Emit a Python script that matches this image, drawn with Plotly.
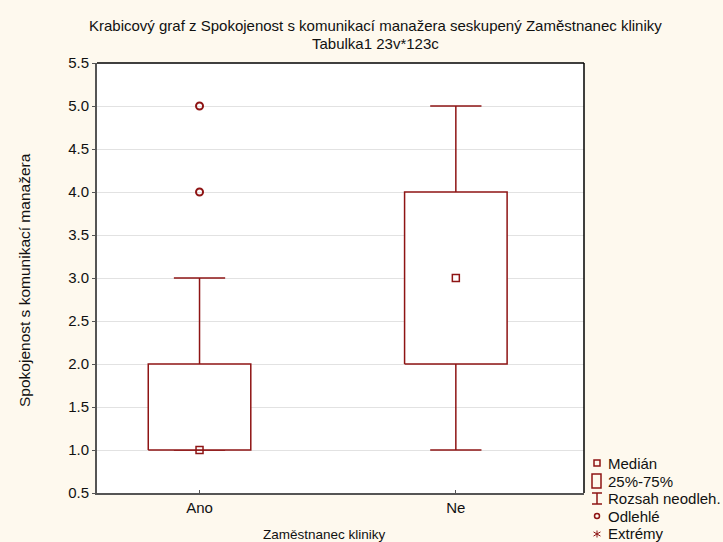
import plotly.graph_objects as go

categories = ["Ano", "Ne"]
medians = [1.0, 3.0]
q1 = [1.0, 2.0]
q3 = [2.0, 4.0]
whisk_lo = [1.0, 1.0]
whisk_hi = [3.0, 5.0]
outliers = [[4.0, 5.0], []]
y_ticks = [0.5, 1.0, 1.5, 2.0, 2.5, 3.0, 3.5, 4.0, 4.5, 5.0, 5.5]

RED = "#8E1414"
BG = "#FEF9EE"
FONT = "Liberation Sans, Arial, sans-serif"
BOX_HW = 0.2
CAP_HW = 0.1

W, H = 723, 542
L, R, T, B = 97, 584, 63, 493

def px(x):
    return (x - L) / (R - L)

def py(y):
    return (B - y) / (B - T)

fig = go.Figure()

for i, cat in enumerate(categories):
    fig.add_trace(go.Scatter(
        x=[i, i, None, i - CAP_HW, i + CAP_HW, None, i, i, None, i - CAP_HW, i + CAP_HW],
        y=[q3[i], whisk_hi[i], None, whisk_hi[i], whisk_hi[i], None,
           q1[i], whisk_lo[i], None, whisk_lo[i], whisk_lo[i]],
        mode="lines", line=dict(color=RED, width=1.5), showlegend=False, hoverinfo="skip"))
    fig.add_trace(go.Scatter(
        x=[i - BOX_HW, i + BOX_HW, i + BOX_HW, i - BOX_HW, i - BOX_HW],
        y=[q1[i], q1[i], q3[i], q3[i], q1[i]],
        mode="lines", fill="toself", fillcolor="white",
        line=dict(color=RED, width=1.5), showlegend=False, hoverinfo="skip"))
    fig.add_trace(go.Scatter(
        x=[i], y=[medians[i]], mode="markers",
        marker=dict(symbol="square-open", size=7, color=RED, line=dict(width=1.5)),
        showlegend=False, hoverinfo="skip"))
    if outliers[i]:
        fig.add_trace(go.Scatter(
            x=[i] * len(outliers[i]), y=outliers[i], mode="markers",
            marker=dict(symbol="circle-open", size=7, color=RED, line=dict(width=2)),
            showlegend=False, hoverinfo="skip"))

legend_items = ["Medián", "25%-75%", "Rozsah neodleh.", "Odlehlé", "Extrémy"]
legend_y = [463, 481, 498, 516, 533]
shapes = []
annotations = []
for lab, yy in zip(legend_items, legend_y):
    annotations.append(dict(x=px(606), y=py(yy), xref="paper", yref="paper", text=lab,
                            showarrow=False, xanchor="left", yanchor="middle",
                            font=dict(family=FONT, size=15, color="#111")))
shapes.append(dict(type="rect", xref="paper", yref="paper", x0=px(594), x1=px(600),
                   y0=py(466), y1=py(460), line=dict(color=RED, width=1.5)))
shapes.append(dict(type="rect", xref="paper", yref="paper", x0=px(592), x1=px(601),
                   y0=py(488), y1=py(474), line=dict(color=RED, width=1.5)))
for (x0, x1, y0, y1) in [(592, 602, 493, 493), (597, 597, 493, 504), (592, 602, 504, 504)]:
    shapes.append(dict(type="line", xref="paper", yref="paper", x0=px(x0), x1=px(x1),
                       y0=py(y0), y1=py(y1), line=dict(color=RED, width=1.5)))
shapes.append(dict(type="circle", xref="paper", yref="paper", x0=px(594.5), x1=px(599.5),
                   y0=py(518.5), y1=py(513.5), line=dict(color=RED, width=1.5)))
# asterisk for extremes
cx, cy, r = 597, 534, 3.5
for (x0, y0, x1, y1) in [(cx, cy - r, cx, cy + r), (cx - r, cy - r * 0.6, cx + r, cy + r * 0.6),
                         (cx - r, cy + r * 0.6, cx + r, cy - r * 0.6)]:
    shapes.append(dict(type="line", xref="paper", yref="paper", x0=px(x0), x1=px(x1),
                       y0=py(y0), y1=py(y1), line=dict(color=RED, width=1)))

shapes.append(dict(type="line", xref="paper", yref="paper", x0=0, x1=1, y0=1, y1=1,
                   line=dict(color="black", width=1.5)))
shapes.append(dict(type="line", xref="paper", yref="paper", x0=1, x1=1, y0=0, y1=1,
                   line=dict(color="black", width=1.5)))

annotations.append(dict(x=px(375), y=py(26), xref="paper", yref="paper",
                        text="Krabicový graf z Spokojenost s komunikací manažera seskupený Zaměstnanec kliniky",
                        showarrow=False, xanchor="center", yanchor="middle",
                        font=dict(family=FONT, size=15, color="#111")))
annotations.append(dict(x=px(375), y=py(44), xref="paper", yref="paper",
                        text="Tabulka1 23v*123c", showarrow=False, xanchor="center", yanchor="middle",
                        font=dict(family=FONT, size=15, color="#111")))
annotations.append(dict(x=px(324), y=py(534), xref="paper", yref="paper",
                        text="Zaměstnanec kliniky", showarrow=False, xanchor="center", yanchor="middle",
                        font=dict(family=FONT, size=13.5, color="#111")))
annotations.append(dict(x=px(24), y=py(280), xref="paper", yref="paper",
                        text="Spokojenost s komunikací manažera", textangle=-90,
                        showarrow=False, xanchor="center", yanchor="middle",
                        font=dict(family=FONT, size=15.5, color="#111")))

fig.update_layout(
    width=W, height=H,
    margin=dict(l=L, r=W - R, t=T, b=H - B),
    paper_bgcolor=BG, plot_bgcolor="white",
    showlegend=False,
    font=dict(family=FONT, size=15, color="#111"),
    shapes=shapes, annotations=annotations,
    xaxis=dict(range=[-0.4, 1.5], tickmode="array", tickvals=list(range(len(categories))),
               ticktext=categories, showgrid=False, zeroline=False,
               showline=True, linecolor="#555", linewidth=2,
               ticks="inside", ticklen=3, tickcolor="#555", tickfont=dict(size=15)),
    yaxis=dict(range=[0.5, 5.5], tickmode="array", tickvals=y_ticks,
               ticktext=[f"{v:.1f}" for v in y_ticks],
               showgrid=True, gridcolor="#E2E2E2", gridwidth=1, zeroline=False,
               showline=True, linecolor="#555", linewidth=2,
               ticks="outside", ticklen=3, tickcolor="#555", tickfont=dict(size=15)),
)

fig.write_html("out.html", config={"displayModeBar": False},
               post_script="document.body.style.margin='0';document.body.style.padding='0';"
                           "document.body.style.overflow='hidden';"
                           "document.body.style.background='" + BG + "';")
